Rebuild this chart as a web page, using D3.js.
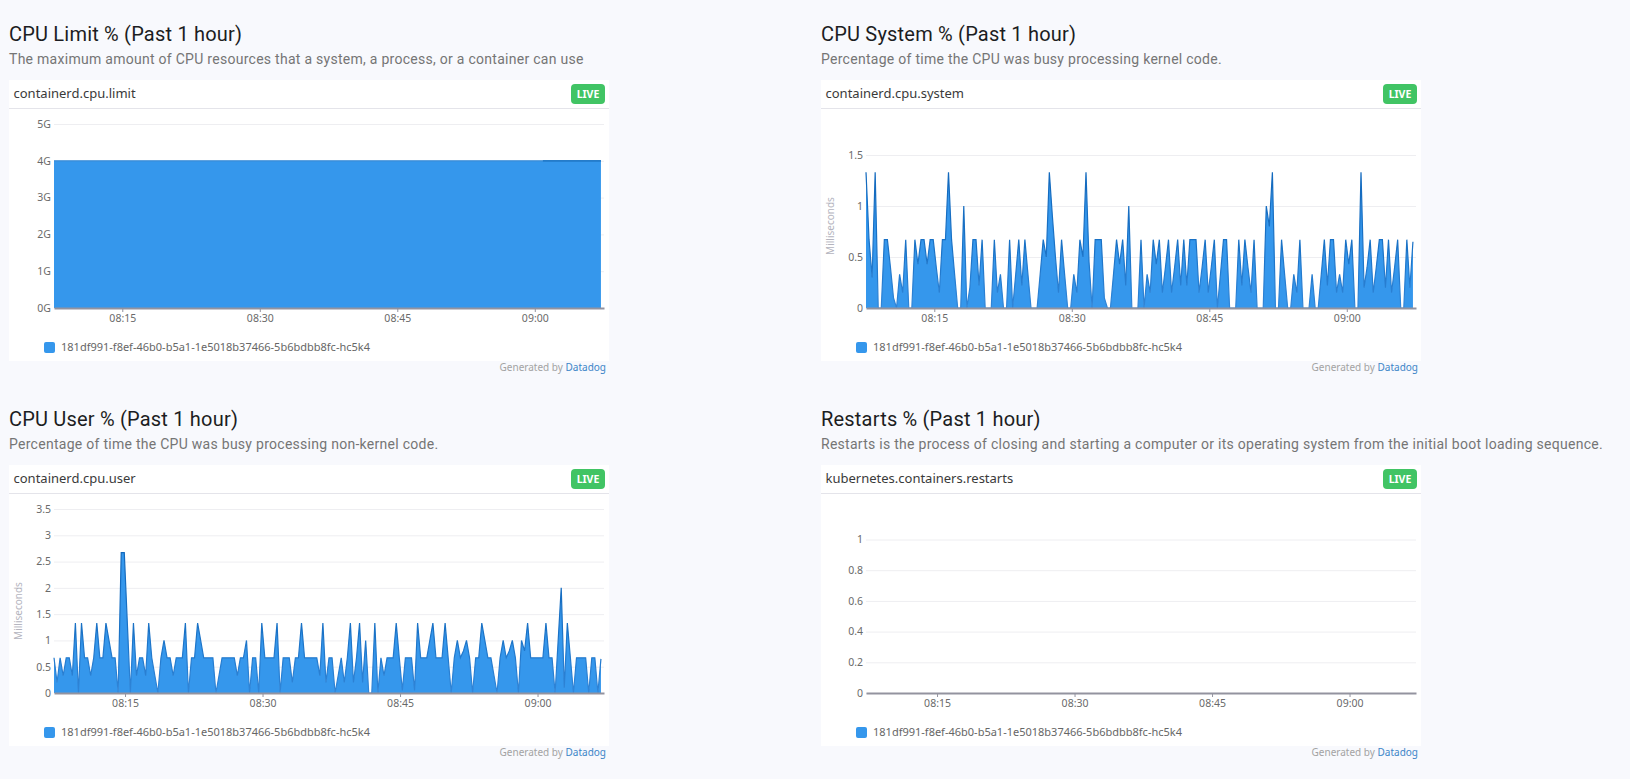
<!DOCTYPE html>
<html>
<head>
<meta charset="utf-8">
<script src="https://cdn.jsdelivr.net/npm/d3@7"></script>
<style>
html, body { margin: 0; background: #f8f9fd; overflow: hidden; }
svg { display: block; }
text { font-family: "Noto Sans", sans-serif; }
.title { font-family: Roboto, sans-serif; font-size: 20px; fill: #1c1d22; letter-spacing: .2px; }
.subtitle { font-family: Roboto, sans-serif; font-size: 14px; fill: #757575; letter-spacing: .275px; }
.metric { font-size: 13px; fill: #3a3a3a; }
.live { font-size: 10.5px; font-weight: 700; fill: #fff; }
.legend { font-size: 11px; fill: #666; }
.credit { font-size: 10px; fill: #a3a3a3; }
.credit tspan { fill: #3c85c8; }
.axis-title { font-size: 10px; fill: #b4b4be; }
.grid line { stroke: #eeeef1; }
.grid path { display: none; }
.y text, .x text { font-size: 10.5px; fill: #6a6a6a; font-family: "Noto Sans", sans-serif; }
.y path, .y line { display: none; }
.x path { stroke: #93939f; stroke-width: 2px; }
.x line { stroke: #93939f; }
</style>
</head>
<body>
<script>
var titles = ["CPU Limit % (Past 1 hour)", "CPU System % (Past 1 hour)", "CPU User % (Past 1 hour)", "Restarts % (Past 1 hour)"];
var subtitles = [
	"The maximum amount of CPU resources that a system, a process, or a container can use",
	"Percentage of time the CPU was busy processing kernel code.",
	"Percentage of time the CPU was busy processing non-kernel code.",
	"Restarts is the process of closing and starting a computer or its operating system from the initial boot loading sequence."
];
var metrics = ["containerd.cpu.limit", "containerd.cpu.system", "containerd.cpu.user", "kubernetes.containers.restarts"];
var seriesName = "181df991-f8ef-46b0-b5a1-1e5018b37466-5b6bdbb8fc-hc5k4";
var timeTicks = ["08:15", "08:30", "08:45", "09:00"];
var startTimes = ["08:07:33", "08:07:33", "08:07:15", "08:07:15"];

var limitTicks = [0, 1, 2, 3, 4, 5];
var systemTicks = [0, 0.5, 1, 1.5];
var userTicks = [0, 0.5, 1, 1.5, 2, 2.5, 3, 3.5];
var restartTicks = [0, 0.2, 0.4, 0.6, 0.8, 1];

var limitValues = [
	4,4,4,4,4,4,4,4,4,4,4,4,4,4,4,4,4,4,4,4,
	4,4,4,4,4,4,4,4,4,4,4,4,4,4,4,4,4,4,4,4,
	4,4,4,4,4,4,4,4,4,4,4,4,4,4,4,4,4,4,4,4,
	4,4,4,4,4,4,4,4,4,4,4,4,4,4,4,4,4,4,4,4,
	4,4,4,4,4,4,4,4,4,4,4,4,4,4,4,4,4,4,4,4,
	4,4,4,4,4,4,4,4,4,4,4,4,4,4,4,4,4,4,4,4,
	4,4,4,4,4,4,4,4,4,4,4,4,4,4,4,4,4,4,4,4,
	4,4,4,4,4,4,4,4,4,4,4,4,4,4,4,4,4,4,4,4,
	4,4,4,4,4,4,4,4,4,4,4,4,4,4,4,4,4,4,4,4
];
var systemValues = [
	1.33,.67,.3,1.33,0,0,.67,.67,.4,.1,0,.33,.15,.67,0,0,.67,.43,.67,.67,
	.43,.67,.67,.4,.15,.67,.67,1.33,.67,.33,0,0,1,0,.2,.67,.67,.22,.67,0,
	0,0,.67,.15,.33,0,0,.67,0,.33,.67,.22,.67,.33,0,0,0,.33,.67,.5,
	1.33,.9,.5,.15,.67,.33,0,0,.33,.15,.67,.5,1.33,.45,0,.67,.67,.67,.1,0,
	0,.33,.67,.43,.67,.22,1,0,0,0,.67,0,.33,.15,.67,.43,.67,.15,.4,.67,
	.15,.4,.67,.22,.67,.22,.67,.67,.67,.15,.4,.67,.15,.4,.67,0,.33,.67,.67,0,
	0,0,.67,.22,.67,.4,.15,.67,0,0,0,1,.8,1.33,0,0,.67,.33,0,0,
	.33,.15,.67,0,0,0,.33,0,0,.33,.67,.22,.67,.67,.15,.33,.15,.67,.43,.67,
	0,0,1.33,.2,.4,.67,.15,.4,.67,.67,.2,.67,.15,.4,.67,0,0,.67,.2,.65
];
var userValues = [
	.67,.2,.67,.33,.67,.67,.33,1.33,0,1.33,.67,.67,.33,.67,1.33,.67,.67,1.33,1,.67,
	.67,0,2.67,2.67,1.33,0,1.33,.33,.67,.67,.33,1.33,.67,.33,0,.67,1,.67,.67,.33,
	.67,.67,.67,1.33,0,.67,.67,1.33,1,.67,.67,.67,.67,0,.33,.67,.67,.67,.67,.67,
	.33,.67,.67,1,0,.67,.67,0,1.33,.67,.67,.67,.67,1.33,0,.67,.67,.67,.2,.67,
	.67,1.33,.67,.67,.67,.67,.67,.33,1.33,.2,.67,.67,0,.33,.67,.2,.67,1.33,.2,.67,
	1.33,.2,1,0,0,1.33,0,.67,.33,.67,.67,.67,1.33,.67,.05,.67,.67,.67,.05,1.33,
	.67,.67,.67,1,1.33,.67,.67,.67,1.33,.67,0,.67,1,.67,.8,1,.67,0,.67,.67,
	1.33,1,.67,.67,.33,0,.67,1,.67,.8,1,.67,0,1,.8,1.33,.67,.67,.67,.67,
	.67,1.33,.67,.67,0,1,2,.1,1.33,.67,0,.67,.67,.67,.67,0,.67,.67,0,.65
];
var restartValues = [
	0,0,0,0,0,0,0,0,0,0,0,0,0,0,0,0,0,0,0,0,
	0,0,0,0,0,0,0,0,0,0,0,0,0,0,0,0,0,0,0,0,
	0,0,0,0,0,0,0,0,0,0,0,0,0,0,0,0,0,0,0,0,
	0,0,0,0,0,0,0,0,0,0,0,0,0,0,0,0,0,0,0,0,
	0,0,0,0,0,0,0,0,0,0,0,0,0,0,0,0,0,0,0,0,
	0,0,0,0,0,0,0,0,0,0,0,0,0,0,0,0,0,0,0,0,
	0,0,0,0,0,0,0,0,0,0,0,0,0,0,0,0,0,0,0,0,
	0,0,0,0,0,0,0,0,0,0,0,0,0,0,0,0,0,0,0,0,
	0,0,0,0,0,0,0,0,0,0,0,0,0,0,0,0,0,0,0,0
];

var width = 1630, height = 779;
var parseTime = d3.timeParse("%H:%M:%S"), parseTick = d3.timeParse("%H:%M");

var svg = d3.select("body").append("svg").attr("width", width).attr("height", height);

// one panel per metric, yTop is where the top tick sits
var panels = [
	{ col: 0, row: 0, values: limitValues, ticks: limitTicks, yTop: 124, unit: "G", darkFrom: 160 },
	{ col: 1, row: 0, values: systemValues, ticks: systemTicks, yTop: 155, axisTitle: "Milliseconds", axisTitleY: 226 },
	{ col: 0, row: 1, values: userValues, ticks: userTicks, yTop: 124, axisTitle: "Milliseconds", axisTitleY: 226 },
	{ col: 1, row: 1, values: restartValues, ticks: restartTicks, yTop: 154.5, zeroOnly: true }
];

// the stroke is darkest on the peaks and melts into the fill near the baseline
var fade = svg.append("defs").append("linearGradient").attr("id", "fade")
	.attr("gradientUnits", "userSpaceOnUse").attr("x1", 0).attr("x2", 0).attr("y1", 160).attr("y2", 308);
fade.append("stop").attr("offset", "0%").attr("stop-color", "#1268bc");
fade.append("stop").attr("offset", "60%").attr("stop-color", "#1a72c6");
fade.append("stop").attr("offset", "100%").attr("stop-color", "#3085d8");

panels.forEach(function(p, n) {
	var g = svg.append("g").attr("transform", "translate(" + (p.col * 812) + "," + (p.row * 385) + ")");

	g.append("text").attr("class", "title").attr("x", 9).attr("y", 41).text(titles[n]);
	g.append("text").attr("class", "subtitle").attr("x", 9).attr("y", 64).text(subtitles[n]);

	g.append("rect").attr("x", 9).attr("y", 80).attr("width", 600).attr("height", 281).attr("fill", "#fff");
	g.append("line").attr("x1", 9).attr("x2", 609).attr("y1", 108.5).attr("y2", 108.5).attr("stroke", "#e4e4ea");
	g.append("text").attr("class", "metric").attr("x", 13.5).attr("y", 98).text(metrics[n]);

	g.append("rect").attr("x", 571).attr("y", 84).attr("width", 34).attr("height", 20).attr("rx", 4).attr("fill", "#41c464");
	g.append("text").attr("class", "live").attr("x", 588).attr("y", 98).attr("text-anchor", "middle").text("LIVE");

	var start = parseTime(startTimes[n]);
	var x = d3.scaleTime().domain([start, d3.timeMinute.offset(start, 60)]).range([54, 604]);
	var y = d3.scaleLinear().domain([0, d3.max(p.ticks)]).range([308, p.yTop]);

	// samples are 20 seconds apart
	var points = p.values.map(function(v, i) {
		return { t: d3.timeSecond.offset(start, i * 20), v: v, i: i };
	});

	g.append("g").attr("class", "grid").attr("transform", "translate(54,0)")
		.call(d3.axisLeft(y).tickValues(p.ticks).tickSize(-550).tickFormat(""));

	if (!p.zeroOnly) {
		var area = d3.area().x(function(d) { return x(d.t); }).y0(y(0)).y1(function(d) { return y(d.v); });
		var line = d3.line().x(function(d) { return x(d.t); }).y(function(d) { return y(d.v); });
		g.append("path").datum(points).attr("d", area).attr("fill", "#3597ec");
		g.append("path").datum(points).attr("d", line).attr("fill", "none")
			.attr("stroke", p.darkFrom ? "#3a8bd6" : "url(#fade)").attr("stroke-width", 1.2);
		if (p.darkFrom) {
			g.append("path").datum(points.filter(function(d) { return d.i >= p.darkFrom; })).attr("d", line)
				.attr("fill", "none").attr("stroke", "#1570c2").attr("stroke-width", 1.2);
		}
	}

	g.append("g").attr("class", "y").attr("transform", "translate(54,0)")
		.call(d3.axisLeft(y).tickValues(p.ticks).tickSize(0).tickPadding(3)
			.tickFormat(function(d) { return d + (p.unit || ""); }));

	g.append("g").attr("class", "x").attr("transform", "translate(0," + y(0) + ")")
		.call(d3.axisBottom(x).tickValues(timeTicks.map(function(s) { return parseTick(s); }))
			.tickSizeInner(4).tickSizeOuter(0).tickPadding(3).tickFormat(d3.timeFormat("%H:%M")));

	if (p.axisTitle) {
		g.append("text").attr("class", "axis-title").attr("text-anchor", "middle")
			.attr("transform", "translate(22," + p.axisTitleY + ") rotate(-90)").text(p.axisTitle);
	}

	g.append("rect").attr("x", 44).attr("y", 342).attr("width", 11).attr("height", 11).attr("rx", 2).attr("fill", "#3597ec");
	g.append("text").attr("class", "legend").attr("x", 61).attr("y", 351).text(seriesName);

	var credit = g.append("text").attr("class", "credit").attr("x", 606).attr("y", 371).attr("text-anchor", "end");
	credit.append("tspan").style("fill", "#a3a3a3").text("Generated by ");
	credit.append("tspan").text("Datadog");
});
</script>
</body>
</html>
